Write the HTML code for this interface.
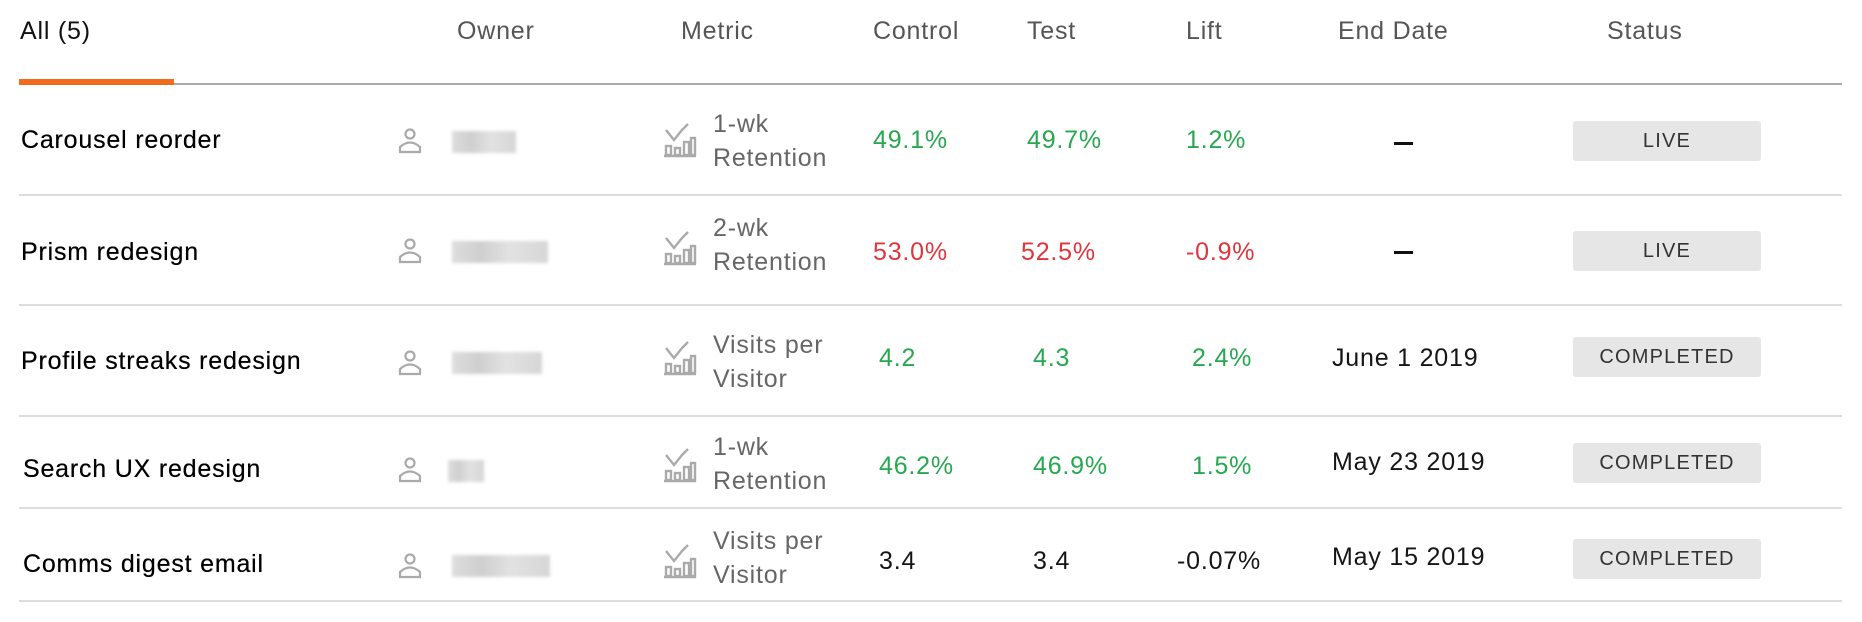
<!DOCTYPE html>
<html><head><meta charset="utf-8"><style>
body{margin:0;width:1862px;height:622px;background:#fff;position:relative;overflow:hidden;font-family:"Liberation Sans",sans-serif;}
.t{position:absolute;white-space:nowrap;font-size:25px;line-height:30px;letter-spacing:0.8px;}
.h{color:#555;top:16px;}
.n{color:#000;text-shadow:0 0 0.4px #000;}
.g{color:#27a74f;}
.r{color:#e0353d;}
.k{color:#151515;}
.m{color:#666;line-height:34px;}
.line{position:absolute;left:19px;width:1823px;height:2px;background:#ddd;}
.badge{position:absolute;left:1573px;width:188px;height:40px;background:#e6e6e6;border-radius:3px;color:#333;font-size:20px;line-height:40px;text-align:center;letter-spacing:1.2px;}
.blur{position:absolute;height:22px;background:linear-gradient(90deg,#ddd,#cfcfcf 30%,#e2e2e2 60%,#d6d6d6);filter:blur(1.5px);}
.ic{position:absolute;}
</style></head><body>
<div class="t" style="left:20px;top:16px;color:#111;">All (5)</div>
<div class="t h" style="left:457px;">Owner</div>
<div class="t h" style="left:681px;">Metric</div>
<div class="t h" style="left:873px;">Control</div>
<div class="t h" style="left:1027px;">Test</div>
<div class="t h" style="left:1186px;">Lift</div>
<div class="t h" style="left:1338px;">End Date</div>
<div class="t h" style="left:1607px;">Status</div>
<div style="position:absolute;left:19px;top:83px;width:1823px;height:2px;background:#aaa;"></div>
<div style="position:absolute;left:19px;top:79px;width:155px;height:6px;background:#f26a1b;"></div>

<div class="line" style="top:194px"></div>
<div class="line" style="top:304px"></div>
<div class="line" style="top:415px"></div>
<div class="line" style="top:507px"></div>
<div class="line" style="top:600px"></div>

<svg width="0" height="0" style="position:absolute"><defs>
<g id="person"><circle cx="12" cy="6" r="4.5" fill="none" stroke="#aaa" stroke-width="2.2"/><path d="M2 24 V19 Q12 10 22 19 V24 Z" fill="none" stroke="#aaa" stroke-width="2.2"/></g>
<g id="chart" fill="none" stroke="#aaa" stroke-width="2.4"><path d="M4 8 L12 18 L20 8 L26 2"/><path d="M2 34 H34"/><rect x="4" y="24" width="5" height="9"/><rect x="13" y="26" width="5" height="7"/><rect x="22" y="20" width="5" height="13"/><rect x="29" y="16" width="4" height="17"/></g>
</defs></svg>

<!-- row 1 -->
<div class="t n" style="left:21px;top:125px;">Carousel reorder</div>
<svg class="ic" style="left:398px;top:128px" width="24" height="26"><use href="#person"/></svg>
<div class="blur" style="left:452px;top:131px;width:64px;"></div>
<svg class="ic" style="left:662px;top:122px" width="36" height="36"><use href="#chart"/></svg>
<div class="t m" style="left:713px;top:107px;">1-wk<br>Retention</div>
<div class="t g" style="left:873px;top:125px;">49.1%</div>
<div class="t g" style="left:1027px;top:125px;">49.7%</div>
<div class="t g" style="left:1186px;top:125px;">1.2%</div>
<div style="position:absolute;left:1394px;top:142px;width:19px;height:3px;background:#111;"></div>
<div class="badge" style="top:121px">LIVE</div>

<!-- row 2 -->
<div class="t n" style="left:21px;top:237px;">Prism redesign</div>
<svg class="ic" style="left:398px;top:238px" width="24" height="26"><use href="#person"/></svg>
<div class="blur" style="left:452px;top:241px;width:96px;"></div>
<svg class="ic" style="left:662px;top:230px" width="36" height="36"><use href="#chart"/></svg>
<div class="t m" style="left:713px;top:211px;">2-wk<br>Retention</div>
<div class="t r" style="left:873px;top:237px;">53.0%</div>
<div class="t r" style="left:1021px;top:237px;">52.5%</div>
<div class="t r" style="left:1186px;top:237px;">-0.9%</div>
<div style="position:absolute;left:1394px;top:251px;width:19px;height:3px;background:#111;"></div>
<div class="badge" style="top:231px">LIVE</div>

<!-- row 3 -->
<div class="t n" style="left:21px;top:346px;">Profile streaks redesign</div>
<svg class="ic" style="left:398px;top:350px" width="24" height="26"><use href="#person"/></svg>
<div class="blur" style="left:452px;top:352px;width:90px;"></div>
<svg class="ic" style="left:662px;top:340px" width="36" height="36"><use href="#chart"/></svg>
<div class="t m" style="left:713px;top:328px;">Visits per<br>Visitor</div>
<div class="t g" style="left:879px;top:343px;">4.2</div>
<div class="t g" style="left:1033px;top:343px;">4.3</div>
<div class="t g" style="left:1192px;top:343px;">2.4%</div>
<div class="t k" style="left:1332px;top:343px;">June 1 2019</div>
<div class="badge" style="top:337px">COMPLETED</div>

<!-- row 4 -->
<div class="t n" style="left:23px;top:454px;">Search UX redesign</div>
<svg class="ic" style="left:398px;top:457px" width="24" height="26"><use href="#person"/></svg>
<div class="blur" style="left:448px;top:460px;width:36px;"></div>
<svg class="ic" style="left:662px;top:447px" width="36" height="36"><use href="#chart"/></svg>
<div class="t m" style="left:713px;top:430px;">1-wk<br>Retention</div>
<div class="t g" style="left:879px;top:451px;">46.2%</div>
<div class="t g" style="left:1033px;top:451px;">46.9%</div>
<div class="t g" style="left:1192px;top:451px;">1.5%</div>
<div class="t k" style="left:1332px;top:447px;">May 23 2019</div>
<div class="badge" style="top:443px">COMPLETED</div>

<!-- row 5 -->
<div class="t n" style="left:23px;top:549px;">Comms digest email</div>
<svg class="ic" style="left:398px;top:553px" width="24" height="26"><use href="#person"/></svg>
<div class="blur" style="left:452px;top:555px;width:98px;"></div>
<svg class="ic" style="left:662px;top:543px" width="36" height="36"><use href="#chart"/></svg>
<div class="t m" style="left:713px;top:524px;">Visits per<br>Visitor</div>
<div class="t k" style="left:879px;top:546px;">3.4</div>
<div class="t k" style="left:1033px;top:546px;">3.4</div>
<div class="t k" style="left:1177px;top:546px;">-0.07%</div>
<div class="t k" style="left:1332px;top:542px;">May 15 2019</div>
<div class="badge" style="top:539px">COMPLETED</div>
</body></html>
